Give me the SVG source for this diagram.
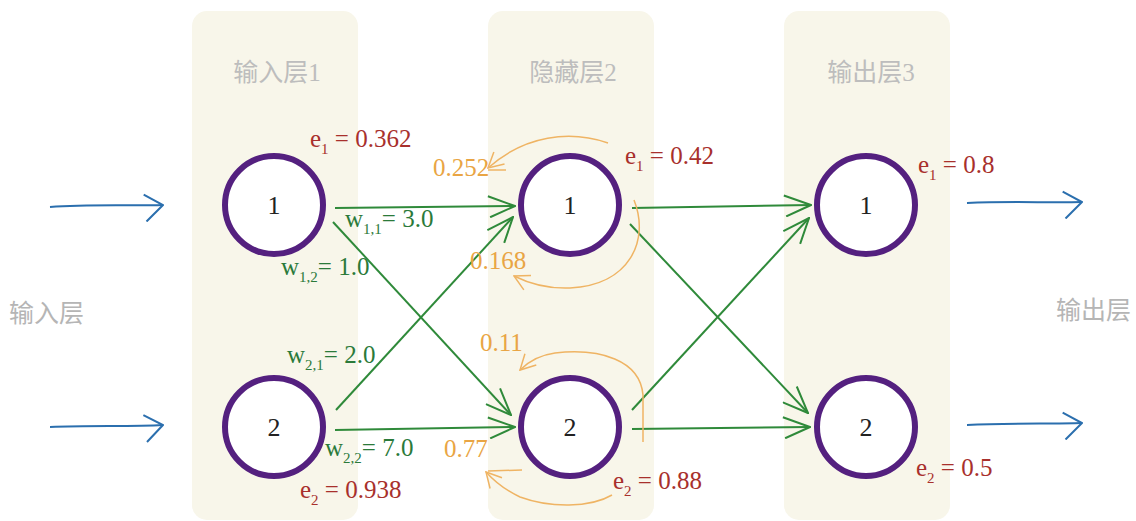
<svg xmlns="http://www.w3.org/2000/svg" width="1136" height="521" viewBox="0 0 1136 521">
<style>
.panel{fill:#f8f6ea}
.title{font-family:"Liberation Serif","Noto Sans CJK SC",serif;font-size:25px;fill:#bdbdbd}
.side{font-family:"Liberation Serif","Noto Sans CJK SC",serif;font-size:25px;fill:#b5b5b5}
.node{fill:#fff;stroke:#54207f;stroke-width:6}
.nlab{font-family:"Liberation Serif",serif;font-size:26px;fill:#222;text-anchor:middle}
.g{stroke:#2f8a3a;stroke-width:2;fill:none}
.b{stroke:#2b6fae;stroke-width:2;fill:none}
.o{stroke:#efb464;stroke-width:1.5;fill:none}
.wt{font-family:"Liberation Serif",serif;font-size:25px;fill:#2b7a3a}
.et{font-family:"Liberation Serif",serif;font-size:25px;fill:#a8302c}
.ot{font-family:"Liberation Serif",serif;font-size:25px;fill:#e9a544}
.sub{font-size:15px}
</style>
<defs>
<marker id="ag" viewBox="0 0 30 24" refX="29" refY="12" markerWidth="30" markerHeight="24" markerUnits="userSpaceOnUse" orient="auto">
<path d="M2,2 L29,12 L4,23" fill="none" stroke="#2f8a3a" stroke-width="2"/>
</marker>
<marker id="ab" viewBox="0 0 24 30" refX="23" refY="13" markerWidth="24" markerHeight="30" markerUnits="userSpaceOnUse" orient="auto">
<path d="M4,2 L23,13 L6,29" fill="none" stroke="#2b6fae" stroke-width="2"/>
</marker>
<marker id="ao" viewBox="0 0 20 20" refX="19" refY="10" markerWidth="20" markerHeight="20" markerUnits="userSpaceOnUse" orient="auto">
<path d="M4,2 L19,10 L4,18" fill="none" stroke="#efb464" stroke-width="1.5"/>
</marker>
</defs>

<g id="panels">
<rect class="panel" x="192" y="11" width="166" height="509" rx="15"/>
<rect class="panel" x="488" y="11" width="166" height="509" rx="15"/>
<rect class="panel" x="784" y="11" width="166" height="509" rx="15"/>
<text class="title" x="277" y="81" text-anchor="middle">输入层1</text>
<text class="title" x="573" y="81" text-anchor="middle">隐藏层2</text>
<text class="title" x="871" y="81" text-anchor="middle">输出层3</text>
<text class="side" x="9" y="322">输入层</text>
<text class="side" x="1056" y="319">输出层</text>
</g>

<g id="connectors">
<path class="b" d="M50,207 C90,204 130,206 163,205" marker-end="url(#ab)"/>
<path class="b" d="M50,427 C90,425 130,427 163,425" marker-end="url(#ab)"/>
<path class="b" d="M967,203 C1010,201 1050,203 1082,202" marker-end="url(#ab)"/>
<path class="b" d="M967,425 C1010,423 1050,424 1082,423" marker-end="url(#ab)"/>

<path class="g" d="M335,208 L515,206" marker-end="url(#ag)"/>
<path class="g" d="M333,222 L511,415" marker-end="url(#ag)"/>
<path class="g" d="M336,410 L513,217" marker-end="url(#ag)"/>
<path class="g" d="M335,430 L515,427" marker-end="url(#ag)"/>
<path class="g" d="M632,208 L811,205" marker-end="url(#ag)"/>
<path class="g" d="M630,224 L808,413" marker-end="url(#ag)"/>
<path class="g" d="M632,410 L809,218" marker-end="url(#ag)"/>
<path class="g" d="M632,429 L810,427" marker-end="url(#ag)"/>

<path class="o" d="M608,143 C570,130 525,135 488,168" marker-end="url(#ao)"/>
<line class="o" x1="488" y1="170" x2="506" y2="170"/>
<path class="o" d="M634,200 C650,240 630,285 570,288 C545,289 528,283 514,276" marker-end="url(#ao)"/>
<path class="o" d="M643,442 L643,395 C640,360 600,348 555,353 C540,355 530,360 520,370" marker-end="url(#ao)"/>
<path class="o" d="M612,495 C590,508 550,508 520,497 C505,490 495,482 486,472" marker-end="url(#ao)"/>
<line class="o" x1="488" y1="471" x2="522" y2="470"/>
</g>

<g id="in1"><circle class="node" cx="274" cy="205" r="49"/><text class="nlab" x="274" y="214">1</text></g>
<g id="in2"><circle class="node" cx="274" cy="427" r="49"/><text class="nlab" x="274" y="436">2</text></g>
<g id="hid1"><circle class="node" cx="570" cy="205" r="49"/><text class="nlab" x="570" y="214">1</text></g>
<g id="hid2"><circle class="node" cx="570" cy="427" r="49"/><text class="nlab" x="570" y="436">2</text></g>
<g id="out1"><circle class="node" cx="866" cy="205" r="49"/><text class="nlab" x="866" y="214">1</text></g>
<g id="out2"><circle class="node" cx="866" cy="427" r="49"/><text class="nlab" x="866" y="436">2</text></g>

<g id="labels">
<text class="wt" x="345" y="227">w<tspan class="sub" dy="7">1,1</tspan><tspan dy="-7">= 3.0</tspan></text>
<text class="wt" x="281" y="275">w<tspan class="sub" dy="7">1,2</tspan><tspan dy="-7">= 1.0</tspan></text>
<text class="wt" x="287" y="363">w<tspan class="sub" dy="7">2,1</tspan><tspan dy="-7">= 2.0</tspan></text>
<text class="wt" x="325" y="456">w<tspan class="sub" dy="7">2,2</tspan><tspan dy="-7">= 7.0</tspan></text>

<text class="et" x="310" y="147">e<tspan class="sub" dy="7">1</tspan><tspan dy="-7"> = 0.362</tspan></text>
<text class="et" x="300" y="498">e<tspan class="sub" dy="7">2</tspan><tspan dy="-7"> = 0.938</tspan></text>
<text class="et" x="625" y="164">e<tspan class="sub" dy="7">1</tspan><tspan dy="-7"> = 0.42</tspan></text>
<text class="et" x="613" y="489">e<tspan class="sub" dy="7">2</tspan><tspan dy="-7"> = 0.88</tspan></text>
<text class="et" x="918" y="173">e<tspan class="sub" dy="7">1</tspan><tspan dy="-7"> = 0.8</tspan></text>
<text class="et" x="916" y="476">e<tspan class="sub" dy="7">2</tspan><tspan dy="-7"> = 0.5</tspan></text>

<text class="ot" x="433" y="176">0.252</text>
<text class="ot" x="470" y="269">0.168</text>
<text class="ot" x="480" y="351">0.11</text>
<text class="ot" x="444" y="457">0.77</text>
</g>
</svg>
